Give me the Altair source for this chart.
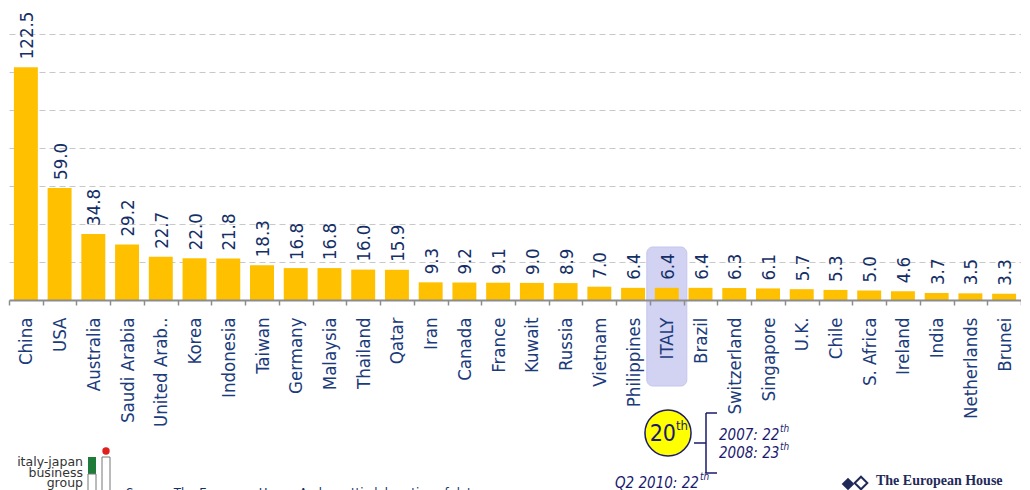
import altair as alt
import pandas as pd

countries = ["China", "USA", "Australia", "Saudi Arabia", "United Arab..", "Korea",
             "Indonesia", "Taiwan", "Germany", "Malaysia", "Thailand", "Qatar", "Iran",
             "Canada", "France", "Kuwait", "Russia", "Vietnam", "Philippines", "ITALY",
             "Brazil", "Switzerland", "Singapore", "U.K.", "Chile", "S. Africa",
             "Ireland", "India", "Netherlands", "Brunei"]
values = [122.5, 59.0, 34.8, 29.2, 22.7, 22.0, 21.8, 18.3, 16.8, 16.8, 16.0, 15.9, 9.3,
          9.2, 9.1, 9.0, 8.9, 7.0, 6.4, 6.4, 6.4, 6.3, 6.1, 5.7, 5.3, 5.0, 4.6, 3.7, 3.5, 3.3]
grid_values = [20, 40, 60, 80, 100, 120, 140]
highlight = "ITALY"

df = pd.DataFrame({"country": countries, "value": values})

W, H = 1012, 266
BAR = "#FFC000"
NAVY = "#142E66"
LABEL = "#1B3B7B"
ANN = "#1A1A6E"
FONT = "DejaVu Sans Condensed"

x_enc = alt.X(
    "country:N", sort=countries,
    scale=alt.Scale(paddingInner=0, paddingOuter=0),
    axis=alt.Axis(title=None, labelAngle=270, labelAlign="right", labelBaseline="middle",
                  labelFontSize=18.5, labelFont=FONT, labelColor=LABEL, labelPadding=12,
                  tickBand="extent", tickSize=5, tickColor="#8C8C8C", tickWidth=1.5,
                  domainColor="#8C8C8C", domainWidth=2, grid=False, labelOverlap=False,
                  labelLimit=0, zindex=1),
)
y_enc = alt.Y(
    "value:Q", scale=alt.Scale(domain=[0, 140], nice=False, zero=True),
    axis=alt.Axis(title=None, values=grid_values, labels=False, ticks=False, domain=False,
                  grid=True, gridDash=[6, 4], gridColor="#C8C8C8", gridWidth=1),
)

base = alt.Chart(df)

hl = base.transform_filter(alt.datum.country == highlight).mark_bar(
    width=40, cornerRadius=6, color="#D2D2F2", stroke="#C6C6EE", strokeWidth=1
).encode(x=x_enc, y=alt.value(213), y2=alt.value(352))

bars = base.mark_bar(width=alt.RelativeBandSize(0.71), color=BAR).encode(x=x_enc, y=y_enc)

labels = base.mark_text(angle=270, align="left", baseline="middle", dx=8, dy=1,
                        fontSize=18.5, font=FONT, color=NAVY).encode(
    x=x_enc, y=y_enc, text=alt.Text("value:Q", format=".1f"))

one = alt.Data(values=[{"a": 1}])


def txt(s, x, y, **kw):
    return alt.Chart(one).mark_text(text=s, **kw).encode(x=alt.value(x), y=alt.value(y))


def rule(x1, y1, x2, y2, color=ANN, w=1.5):
    return alt.Chart(one).mark_rule(color=color, strokeWidth=w).encode(
        x=alt.value(x1), y=alt.value(y1), x2=alt.value(x2), y2=alt.value(y2))


def rect(x1, y1, x2, y2, **kw):
    return alt.Chart(one).mark_rect(**kw).encode(
        x=alt.value(x1), y=alt.value(y1), x2=alt.value(x2), y2=alt.value(y2))


def dot(x, y, **kw):
    return alt.Chart(one).mark_point(**kw).encode(x=alt.value(x), y=alt.value(y))


ann = [
    dot(659, 399, shape="circle", size=2124, filled=True, fill="#FFFF00", stroke=ANN,
        strokeWidth=1.5, opacity=1),
    txt("20", 667, 400, align="right", baseline="middle", fontSize=23, font=FONT, color=ANN),
    txt("th", 667, 392, align="left", baseline="middle", fontSize=13, font=FONT, color=ANN),
    rule(685, 409, 697, 409),
    rule(697, 379, 708, 379),
    rule(697, 379, 697, 439),
    rule(697, 439, 708, 439),
    txt("2007: 22", 710, 401, align="left", baseline="middle", fontSize=15, font=FONT,
        fontStyle="italic", color=ANN),
    txt("th", 771, 395, align="left", baseline="middle", fontSize=10, font=FONT,
        fontStyle="italic", color=ANN),
    txt("2008: 23", 710, 419, align="left", baseline="middle", fontSize=15, font=FONT,
        fontStyle="italic", color=ANN),
    txt("th", 771, 413, align="left", baseline="middle", fontSize=10, font=FONT,
        fontStyle="italic", color=ANN),
    txt("Q2 2010: 22", 606, 449, align="left", baseline="middle", fontSize=15, font=FONT,
        fontStyle="italic", color=ANN),
    txt("th", 691, 443, align="left", baseline="middle", fontSize=10, font=FONT,
        fontStyle="italic", color=ANN),
    # italy-japan business group logo
    txt("italy-japan", 74, 428, align="right", baseline="middle", fontSize=12.5,
        font="DejaVu Sans", color="#333333"),
    txt("business", 74, 438.5, align="right", baseline="middle", fontSize=12.5,
        font="DejaVu Sans", color="#333333"),
    txt("group", 74, 449, align="right", baseline="middle", fontSize=12.5,
        font="DejaVu Sans", color="#333333"),
    rect(79, 423, 87, 440, color="#1E7B3A"),
    rect(79, 440, 87, 470, fill="white", stroke="#777777", strokeWidth=1),
    rect(93, 423, 101, 470, fill="white", stroke="#777777", strokeWidth=1),
    dot(97, 417, shape="circle", size=55, filled=True, color="#E0201C", opacity=1),
    txt("Source: The European House-Ambrosetti elaboration of data", 117, 453,
        align="left", baseline="top", fontSize=13, font=FONT, color=NAVY),
    # The European House logo
    dot(839, 450, shape="diamond", size=160, filled=True, color="#1F2A5A", opacity=1),
    dot(852, 449, shape="diamond", size=160, filled=False, color="#1F2A5A", strokeWidth=2,
        opacity=1),
    txt("The European House", 867, 447, align="left", baseline="middle", fontSize=14,
        font="Liberation Serif", fontWeight="bold", color="#1F2A5A"),
]

chart = alt.layer(hl, bars, labels, *ann).properties(
    width=W, height=H,
    autosize=alt.AutoSizeParams(type="none"),
    padding={"left": 1, "top": 26, "right": 0, "bottom": 200},
).configure_view(stroke=None)

chart.save("out.html", embed_options={"renderer": "svg", "actions": False})
